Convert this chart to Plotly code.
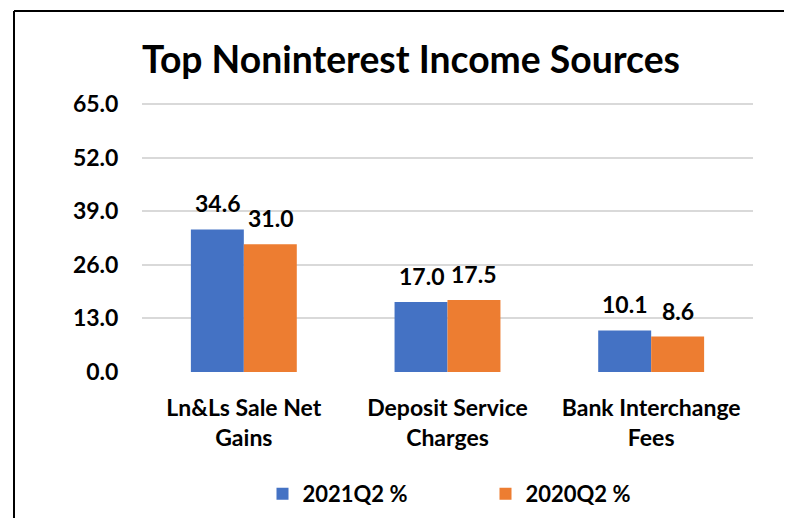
import plotly.graph_objects as go

categories = ["Ln&Ls Sale Net<br>Gains", "Deposit Service<br>Charges", "Bank Interchange<br>Fees"]
series_names = ["2021Q2 %", "2020Q2 %"]
values_2021 = [34.6, 17.0, 10.1]
values_2020 = [31.0, 17.5, 8.6]
tick_vals = [0, 13, 26, 39, 52, 65]
colors = ["#4472C4", "#ED7D31"]

FONT = "Lato"
OFF = 8  # browser body margin
W, H = 792 - OFF, 518 - OFF
ML, MR, MT, MB = 142 - OFF, 39, 100 - OFF, 146

fig = go.Figure()
for name, vals, col in zip(series_names, [values_2021, values_2020], colors):
    fig.add_trace(go.Bar(
        x=categories, y=vals, name=name, marker=dict(color=col, line=dict(width=0)),
    ))

pw = W - ML - MR
ph = H - MT - MB
cat_w = pw / len(categories)
bar_w = cat_w * (1 - 0.48) / 2
for i, vals in enumerate([values_2021, values_2020]):
    off = (-0.5 + i) * bar_w
    for c, v in zip(categories, vals):
        fig.add_annotation(x=c, y=v, text=f"{v:.1f}", showarrow=False,
                           xshift=off, yanchor="bottom", yshift=10,
                           font=dict(family=FONT, size=23, color="#000000", weight="bold"))

def sx(px):  # screen px -> paper x
    return (px - OFF - ML) / pw
def sy(py):  # screen px -> paper y
    return (H - MB - (py - OFF)) / ph

# chart border (left and top)
fig.add_shape(type="line", xref="paper", yref="paper",
              x0=sx(14), x1=sx(14), y0=sy(11), y1=sy(540),
              line=dict(color="#000000", width=2))
fig.add_shape(type="line", xref="paper", yref="paper",
              x0=sx(14), x1=sx(820), y0=sy(11), y1=sy(11),
              line=dict(color="#000000", width=2))

fig.update_layout(
    width=W, height=H,
    margin=dict(l=ML, r=MR, t=MT, b=MB, autoexpand=False),
    paper_bgcolor="white", plot_bgcolor="white",
    barmode="group", bargap=0.48, bargroupgap=0,
    title=dict(text="Top Noninterest Income Sources", x=(411 - OFF) / W, xanchor="center",
               y=1 - (60 - OFF) / H, yanchor="middle",
               font=dict(family=FONT, size=37.3, color="#000000", weight="bold")),
    font=dict(family=FONT, color="#000000"),
    legend=dict(orientation="h", x=0.5 + 38 / pw, xanchor="center", y=sy(494), yanchor="middle",
                font=dict(family=FONT, size=22, color="#000000", weight="bold"),
                traceorder="normal", entrywidth=178, itemwidth=30),
    showlegend=True,
)
fig.update_xaxes(showline=False, ticks="", ticklabelstandoff=20, automargin=False,
                 tickfont=dict(family=FONT, size=23, color="#000000", weight="bold"),
                 showgrid=False)
fig.update_yaxes(range=[0, 66], tickvals=tick_vals, ticktext=[f"{t:.1f}" for t in tick_vals],
                 showgrid=True, gridcolor="#D9D9D9", gridwidth=1.5, zeroline=False, showline=False,
                 ticks="outside", ticklen=18, tickcolor="rgba(0,0,0,0)", automargin=False,
                 tickfont=dict(family=FONT, size=23, color="#000000", weight="bold"))

fig.write_html("out.html")
